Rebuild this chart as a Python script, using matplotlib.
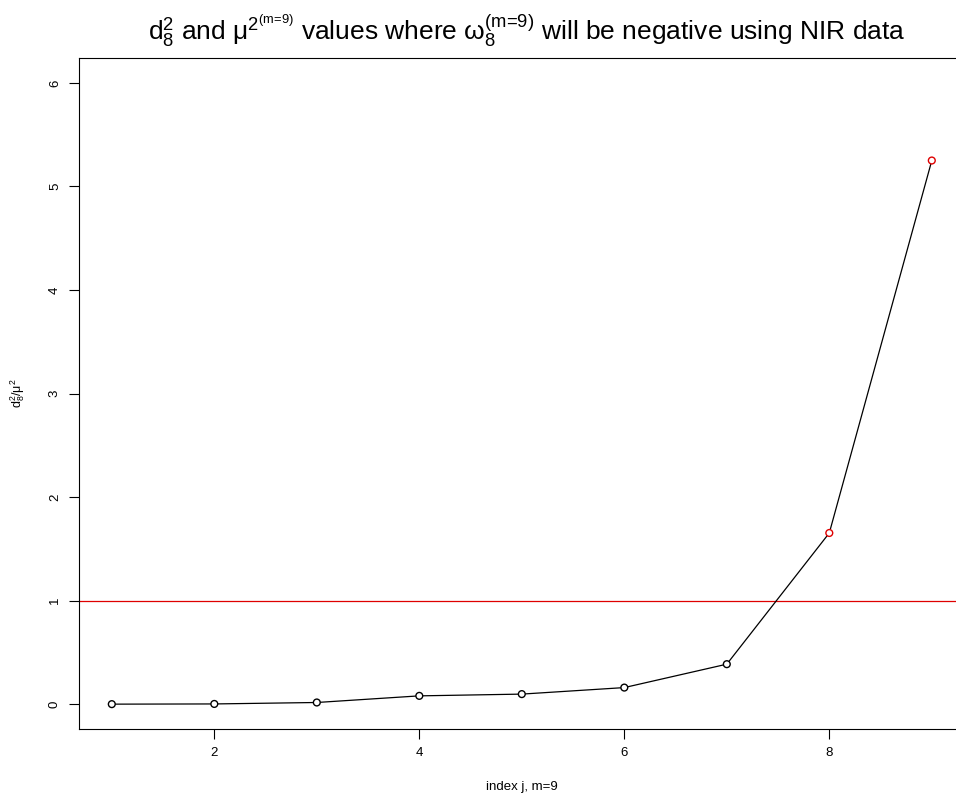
import matplotlib
matplotlib.use("Agg")
import matplotlib.pyplot as plt

plt.rcParams['font.family'] = ['Liberation Sans', 'DejaVu Sans']
plt.rcParams['mathtext.fontset'] = 'custom'
plt.rcParams['mathtext.rm'] = 'Liberation Sans'
plt.rcParams['mathtext.it'] = 'Liberation Sans'
plt.rcParams['mathtext.default'] = 'regular'

index_j = [1, 2, 3, 4, 5, 6, 7, 8, 9]
ratio = [0.0, 0.002, 0.016, 0.080, 0.097, 0.160, 0.386, 1.653, 5.25]
point_colors = ['black'] * 7 + ['#DF0000'] * 2
threshold = 1.0
x_ticks = [2, 4, 6, 8]
y_ticks = [0, 1, 2, 3, 4, 5, 6]

W, H = 956, 800
fig = plt.figure(figsize=(W / 100, H / 100), dpi=100)
left, right, top, bottom = 79, 964.6, 58, 729
ax = fig.add_axes([left / W, 1 - bottom / H, (right - left) / W, (bottom - top) / H])

ax.plot(index_j, ratio, color='black', lw=0.9, zorder=2)
ax.scatter(index_j, ratio, s=24, facecolors='white', edgecolors=point_colors,
           linewidths=1.0, zorder=3)
ax.axhline(threshold, color='#DF0000', lw=0.9, zorder=1)

ax.set_xlim(0.68, 9.32)
ax.set_ylim(-0.24, 6.24)
ax.set_xticks(x_ticks)
ax.set_yticks(y_ticks)
ax.tick_params(direction='out', length=7, width=0.8, labelsize=9.5, pad=6)
for lbl in ax.get_yticklabels():
    lbl.set_rotation(90)
    lbl.set_va('center')
for s in ax.spines.values():
    s.set_linewidth(0.8)

ax.set_xlabel('index j, m=9', fontsize=9.5, labelpad=16)
ax.set_ylabel(r'$d_8^2/\mu^2$', fontsize=9, labelpad=16)

fig.text(527 / W, 1 - 31 / H,
         r'$d_8^2$ and $\mu^{2^{\text{(m=9)}}}$ values where $\omega_8^{\text{(m=9)}}$ will be negative using NIR data',
         ha='center', va='center', fontsize=19)

fig.savefig('out.png', dpi=100)
